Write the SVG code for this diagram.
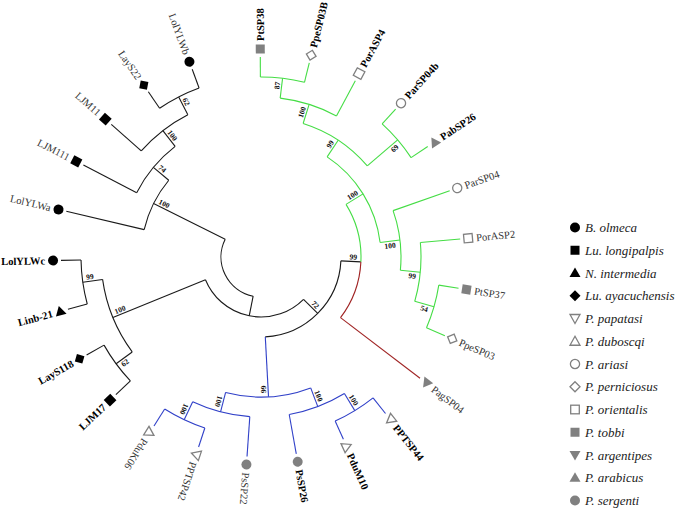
<svg xmlns="http://www.w3.org/2000/svg" xmlns:xlink="http://www.w3.org/1999/xlink" width="684" height="509" viewBox="0 0 684 509">
<style>
.e{fill:none;stroke-width:1.1}
.k{stroke:#1a1a1a}.g{stroke:#45dd45}.b{stroke:#3040c8}.r{stroke:#a02424}
.lb{font-family:"Liberation Serif",serif;font-size:10.5px;fill:#333}
.bd{font-weight:bold;fill:#000}
.bs{font-family:"Liberation Serif",serif;font-size:7.5px;font-weight:bold;fill:#111}
.lg{font-family:"Liberation Serif",serif;font-size:13px;font-style:italic;fill:#222}
</style>
<defs>
<circle id="olmeca" r="5" fill="#000"/>
<rect id="longipalpis" x="-4.5" y="-4.5" width="9" height="9" fill="#000"/>
<polygon id="intermedia" points="0,-5.5 5.5,4 -5.5,4" fill="#000"/>
<polygon id="ayacuchensis" points="0,-5.5 5.5,0 0,5.5 -5.5,0" fill="#000"/>
<polygon id="papatasi" points="0,5 5,-4 -5,-4" fill="#fff" stroke="#808080" stroke-width="1.3"/>
<polygon id="duboscqi" points="0,-5 5,4 -5,4" fill="#fff" stroke="#808080" stroke-width="1.3"/>
<circle id="ariasi" r="4.6" fill="#fff" stroke="#808080" stroke-width="1.3"/>
<polygon id="perniciosus" points="0,-5 5,0 0,5 -5,0" fill="#fff" stroke="#808080" stroke-width="1.3"/>
<rect id="orientalis" x="-4.3" y="-4.3" width="8.6" height="8.6" fill="#fff" stroke="#808080" stroke-width="1.3"/>
<rect id="tobbi" x="-4.5" y="-4.5" width="9" height="9" fill="#808080"/>
<polygon id="argentipes" points="0,5.5 5.5,-4 -5.5,-4" fill="#808080"/>
<polygon id="arabicus" points="0,-5.5 5.5,4 -5.5,4" fill="#808080"/>
<circle id="sergenti" r="5" fill="#808080"/>
</defs>
<rect width="684" height="509" fill="#fff"/>

<g id="connectors" transform="translate(261 257)">
<g class="e k">
<path d="M -7.85 39.22 A 40 40 0 0 1 -35.80 -17.84"/>
<path d="M 42.53 42.32 A 60 60 0 0 1 -55.54 22.69"/>
<path d="M 79.90 3.89 A 80 80 0 0 1 4.29 79.88"/>
<path d="M -128.78 94.94 A 160 160 0 0 1 -158.42 22.42"/>
<path d="M -130.63 123.84 A 180 180 0 0 1 -156.96 88.11"/>
<path d="M -173.75 47.01 A 180 180 0 0 1 -179.97 3.05"/>
<path d="M -116.83 -27.40 A 120 120 0 0 1 -92.23 -76.77"/>
<path d="M -124.32 -64.37 A 140 140 0 0 1 -85.87 -110.57"/>
<path d="M -119.73 -106.13 A 160 160 0 0 1 -73.15 -142.30"/>
<path d="M -101.41 -148.72 A 180 180 0 0 1 -61.92 -169.02"/>
<line x1="40" x2="60" transform="rotate(101.32)"/>
<line x1="40" x2="120" transform="rotate(206.48)"/>
<line x1="60" x2="80" transform="rotate(44.86)"/>
<line x1="60" x2="160" transform="rotate(157.775)"/>
<line x1="80" x2="100" transform="rotate(2.79)"/>
<line x1="160" x2="180" transform="rotate(143.605)"/>
<line x1="160" x2="180" transform="rotate(171.945)"/>
<line x1="180" x2="200" transform="rotate(136.52)"/>
<line x1="180" x2="200" transform="rotate(150.69)"/>
<line x1="180" x2="200" transform="rotate(164.86)"/>
<line x1="180" x2="200" transform="rotate(179.03)"/>
<line x1="120" x2="200" transform="rotate(193.2)"/>
<line x1="120" x2="140" transform="rotate(219.77)"/>
<line x1="140" x2="200" transform="rotate(207.37)"/>
<line x1="140" x2="160" transform="rotate(232.17)"/>
<line x1="160" x2="200" transform="rotate(221.54)"/>
<line x1="160" x2="180" transform="rotate(242.795)"/>
<line x1="180" x2="200" transform="rotate(235.71)"/>
<line x1="180" x2="200" transform="rotate(249.88)"/>
</g>
<g class="e g">
<path d="M 85.03 -52.62 A 100 100 0 0 1 99.88 4.87"/>
<line x1="100" x2="120" transform="rotate(-31.75)"/>
<path d="M 66.14 -100.13 A 120 120 0 0 1 119.12 -14.52"/>
<line x1="120" x2="140" transform="rotate(-56.55)"/>
<line x1="120" x2="140" transform="rotate(-6.95)"/>
<path d="M 42.13 -133.52 A 140 140 0 0 1 106.29 -91.11"/>
<line x1="140" x2="160" transform="rotate(-72.49)"/>
<line x1="140" x2="180" transform="rotate(-40.605)"/>
<path d="M 19.18 -158.85 A 160 160 0 0 1 75.46 -141.09"/>
<line x1="160" x2="180" transform="rotate(-83.115)"/>
<line x1="160" x2="200" transform="rotate(-61.86)"/>
<path d="M -0.63 -180 A 180 180 0 0 1 43.45 -174.67"/>
<line x1="180" x2="200" transform="rotate(-90.2)"/>
<line x1="180" x2="200" transform="rotate(-76.03)"/>
<path d="M 121.16 -133.13 A 180 180 0 0 1 150.07 -99.40"/>
<line x1="180" x2="200" transform="rotate(-47.69)"/>
<line x1="180" x2="200" transform="rotate(-33.52)"/>
<path d="M 132.09 -46.38 A 140 140 0 0 1 139.37 13.30"/>
<line x1="140" x2="200" transform="rotate(-19.35)"/>
<line x1="140" x2="160" transform="rotate(5.45)"/>
<path d="M 159.35 -14.45 A 160 160 0 0 1 153.74 44.30"/>
<line x1="160" x2="200" transform="rotate(-5.18)"/>
<line x1="160" x2="180" transform="rotate(16.075)"/>
<path d="M 177.79 28.13 A 180 180 0 0 1 165.50 70.79"/>
<line x1="180" x2="200" transform="rotate(8.99)"/>
<line x1="180" x2="200" transform="rotate(23.16)"/>
</g>
<g class="e r">
<path d="M 99.88 4.87 A 100 100 0 0 1 79.51 60.65"/>
<line x1="100" x2="200" transform="rotate(37.33)"/>
</g>
<g class="e b">
<line x1="80" x2="140" transform="rotate(86.925)"/>
<path d="M 49.69 130.89 A 140 140 0 0 1 -35.38 135.45"/>
<line x1="140" x2="160" transform="rotate(69.21)"/>
<line x1="140" x2="160" transform="rotate(104.64)"/>
<path d="M 83.41 136.54 A 160 160 0 0 1 28.22 157.49"/>
<line x1="160" x2="180" transform="rotate(58.585)"/>
<line x1="160" x2="200" transform="rotate(79.84)"/>
<path d="M 112.05 140.87 A 180 180 0 0 1 74.18 164.02"/>
<line x1="180" x2="200" transform="rotate(51.5)"/>
<line x1="180" x2="200" transform="rotate(65.67)"/>
<path d="M -11.19 159.61 A 160 160 0 0 1 -68.29 144.70"/>
<line x1="160" x2="200" transform="rotate(94.01)"/>
<line x1="160" x2="180" transform="rotate(115.265)"/>
<path d="M -56.16 171.02 A 180 180 0 0 1 -96.30 152.08"/>
<line x1="180" x2="200" transform="rotate(108.18)"/>
<line x1="180" x2="200" transform="rotate(122.35)"/>
</g>
</g>

<g id="leaves">
<g id="PtSP38" transform="translate(261 257) rotate(-90.2)"><use href="#tobbi" x="208"/><text class="lb bd" x="216" dy="0.35em">PtSP38</text></g>
<g id="PpeSP03B" transform="translate(261 257) rotate(-76.03)"><use href="#perniciosus" x="208"/><text class="lb bd" x="216" dy="0.35em">PpeSP03B</text></g>
<g id="PorASP4" transform="translate(261 257) rotate(-61.86)"><use href="#orientalis" x="208"/><text class="lb bd" x="216" dy="0.35em">PorASP4</text></g>
<g id="ParSP04b" transform="translate(261 257) rotate(-47.69)"><use href="#ariasi" x="208"/><text class="lb bd" x="216" dy="0.35em">ParSP04b</text></g>
<g id="PabSP26" transform="translate(261 257) rotate(-33.52)"><use href="#arabicus" x="208"/><text class="lb bd" x="216" dy="0.35em">PabSP26</text></g>
<g id="ParSP04" transform="translate(261 257) rotate(-19.35)"><use href="#ariasi" x="208"/><text class="lb" x="216" dy="0.35em">ParSP04</text></g>
<g id="PorASP2" transform="translate(261 257) rotate(-5.18)"><use href="#orientalis" x="208"/><text class="lb" x="216" dy="0.35em">PorASP2</text></g>
<g id="PtSP37" transform="translate(261 257) rotate(8.99)"><use href="#tobbi" x="208"/><text class="lb" x="216" dy="0.35em">PtSP37</text></g>
<g id="PpeSP03" transform="translate(261 257) rotate(23.16)"><use href="#perniciosus" x="208"/><text class="lb" x="216" dy="0.35em">PpeSP03</text></g>
<g id="PagSP04" transform="translate(261 257) rotate(37.33)"><use href="#argentipes" x="208"/><text class="lb" x="216" dy="0.35em">PagSP04</text></g>
<g id="PPTSP44" transform="translate(261 257) rotate(51.5)"><use href="#papatasi" x="208"/><text class="lb bd" x="216" dy="0.35em">PPTSP44</text></g>
<g id="PduM10" transform="translate(261 257) rotate(65.67)"><use href="#duboscqi" x="208"/><text class="lb bd" x="216" dy="0.35em">PduM10</text></g>
<g id="PsSP26" transform="translate(261 257) rotate(79.84)"><use href="#sergenti" x="208"/><text class="lb bd" x="216" dy="0.35em">PsSP26</text></g>
<g id="PsSP22" transform="translate(261 257) rotate(94.01)"><use href="#sergenti" x="208"/><text class="lb" x="216" dy="0.35em">PsSP22</text></g>
<g id="PPTSP42" transform="translate(261 257) rotate(108.18)"><use href="#papatasi" x="208"/><text class="lb" x="216" dy="0.35em">PPTSP42</text></g>
<g id="PduK06" transform="translate(261 257) rotate(122.35)"><use href="#duboscqi" x="208"/><text class="lb" x="216" dy="0.35em">PduK06</text></g>
<g id="LJM17" transform="translate(261 257) rotate(136.52)"><use href="#longipalpis" x="208"/><text class="lb bd" x="216" dy="0.35em" text-anchor="end" transform="rotate(180 216 0)">LJM17</text></g>
<g id="LayS118" transform="translate(261 257) rotate(150.69)"><use href="#ayacuchensis" x="208"/><text class="lb bd" x="216" dy="0.35em" text-anchor="end" transform="rotate(180 216 0)">LayS118</text></g>
<g id="Linb-21" transform="translate(261 257) rotate(164.86)"><use href="#intermedia" transform="translate(208 0) rotate(180)"/><text class="lb bd" x="216" dy="0.35em" text-anchor="end" transform="rotate(180 216 0)">Linb-21</text></g>
<g id="LolYLWc" transform="translate(261 257) rotate(179.03)"><use href="#olmeca" x="208"/><text class="lb bd" x="216" dy="0.35em" text-anchor="end" transform="rotate(180 216 0)">LolYLWc</text></g>
<g id="LolYLWa" transform="translate(261 257) rotate(193.2)"><use href="#olmeca" x="208"/><text class="lb" x="216" dy="0.35em" text-anchor="end" transform="rotate(180 216 0)">LolYLWa</text></g>
<g id="LJM111" transform="translate(261 257) rotate(207.37)"><use href="#longipalpis" x="208"/><text class="lb" x="216" dy="0.35em" text-anchor="end" transform="rotate(180 216 0)">LJM111</text></g>
<g id="LJM11" transform="translate(261 257) rotate(221.54)"><use href="#longipalpis" x="208"/><text class="lb" x="216" dy="0.35em" text-anchor="end" transform="rotate(180 216 0)">LJM11</text></g>
<g id="LayS22" transform="translate(261 257) rotate(235.71)"><use href="#ayacuchensis" x="208"/><text class="lb" x="216" dy="0.35em" text-anchor="end" transform="rotate(180 216 0)">LayS22</text></g>
<g id="LolYLWb" transform="translate(261 257) rotate(249.88)"><use href="#olmeca" x="208"/><text class="lb" x="216" dy="0.35em" text-anchor="end" transform="rotate(180 216 0)">LolYLWb</text></g>
</g>

<g id="bootstrap">
<g id="n87" transform="translate(261 257) rotate(-83.115)"><text class="bs" x="176" y="-2" text-anchor="end">87</text></g>
<g id="n100u" transform="translate(261 257) rotate(-72.49)"><text class="bs" x="156" y="-2" text-anchor="end">100</text></g>
<g id="n99u" transform="translate(261 257) rotate(-56.55)"><text class="bs" x="136" y="-2" text-anchor="end">99</text></g>
<g id="n69" transform="translate(261 257) rotate(-40.605)"><text class="bs" x="176" y="7" text-anchor="end">69</text></g>
<g id="nG100" transform="translate(261 257) rotate(-31.75)"><text class="bs" x="116" y="-2" text-anchor="end">100</text></g>
<g id="n99r" transform="translate(261 257) rotate(2.79)"><text class="bs" x="96" y="-2" text-anchor="end">99</text></g>
<g id="n100l" transform="translate(261 257) rotate(-6.95)"><text class="bs" x="135" y="7" text-anchor="end">100</text></g>
<g id="n99l" transform="translate(261 257) rotate(5.45)"><text class="bs" x="156" y="7" text-anchor="end">99</text></g>
<g id="n54" transform="translate(261 257) rotate(16.075)"><text class="bs" x="175" y="7" text-anchor="end">54</text></g>
<g id="n72" transform="translate(261 257) rotate(44.86)"><text class="bs" x="76" y="-2" text-anchor="end">72</text></g>
<g id="n66" transform="translate(261 257) rotate(86.925)"><text class="bs" x="136" y="7" text-anchor="end">66</text></g>
<g id="nb2" transform="translate(261 257) rotate(69.21)"><text class="bs" x="156" y="-2" text-anchor="end">100</text></g>
<g id="nb1" transform="translate(261 257) rotate(58.585)"><text class="bs" x="176" y="-2" text-anchor="end">100</text></g>
<g id="nb4" transform="translate(261 257) rotate(104.64)"><text class="bs" x="156" y="7" text-anchor="end">100</text></g>
<g id="nb3" transform="translate(261 257) rotate(115.265)"><text class="bs" x="176" y="7" text-anchor="end">100</text></g>
<g id="nB62" transform="translate(261 257) rotate(143.605)"><text class="bs" x="176" y="7" transform="rotate(180 176 0)">62</text></g>
<g id="nB100" transform="translate(261 257) rotate(157.775)"><text class="bs" x="156" y="-2" transform="rotate(180 156 0)">100</text></g>
<g id="nB99" transform="translate(261 257) rotate(171.945)"><text class="bs" x="176" y="-2" transform="rotate(180 176 0)">99</text></g>
<g id="nA100" transform="translate(261 257) rotate(206.48)"><text class="bs" x="116" y="-2" transform="rotate(180 116 0)">100</text></g>
<g id="nA74" transform="translate(261 257) rotate(219.77)"><text class="bs" x="136" y="-2" transform="rotate(180 136 0)">74</text></g>
<g id="nA100b" transform="translate(261 257) rotate(232.17)"><text class="bs" x="156" y="-2" transform="rotate(180 156 0)">100</text></g>
<g id="nA62" transform="translate(261 257) rotate(242.795)"><text class="bs" x="176" y="-2" transform="rotate(180 176 0)">62</text></g>
</g>

<g id="legend">
<use href="#olmeca" x="575" y="227.5"/><text class="lg" x="585" y="232">B. olmeca</text>
<use href="#longipalpis" x="575" y="250.25"/><text class="lg" x="585" y="254.75">Lu. longipalpis</text>
<use href="#intermedia" x="575" y="273"/><text class="lg" x="585" y="277.5">N. intermedia</text>
<use href="#ayacuchensis" x="575" y="295.75"/><text class="lg" x="585" y="300.25">Lu. ayacuchensis</text>
<use href="#papatasi" x="575" y="318.5"/><text class="lg" x="585" y="323">P. papatasi</text>
<use href="#duboscqi" x="575" y="341.25"/><text class="lg" x="585" y="345.75">P. duboscqi</text>
<use href="#ariasi" x="575" y="364"/><text class="lg" x="585" y="368.5">P. ariasi</text>
<use href="#perniciosus" x="575" y="386.75"/><text class="lg" x="585" y="391.25">P. perniciosus</text>
<use href="#orientalis" x="575" y="409.5"/><text class="lg" x="585" y="414">P. orientalis</text>
<use href="#tobbi" x="575" y="432.25"/><text class="lg" x="585" y="436.75">P. tobbi</text>
<use href="#argentipes" x="575" y="455"/><text class="lg" x="585" y="459.5">P. argentipes</text>
<use href="#arabicus" x="575" y="477.75"/><text class="lg" x="585" y="482.25">P. arabicus</text>
<use href="#sergenti" x="575" y="500.5"/><text class="lg" x="585" y="505">P. sergenti</text>
</g>
</svg>
